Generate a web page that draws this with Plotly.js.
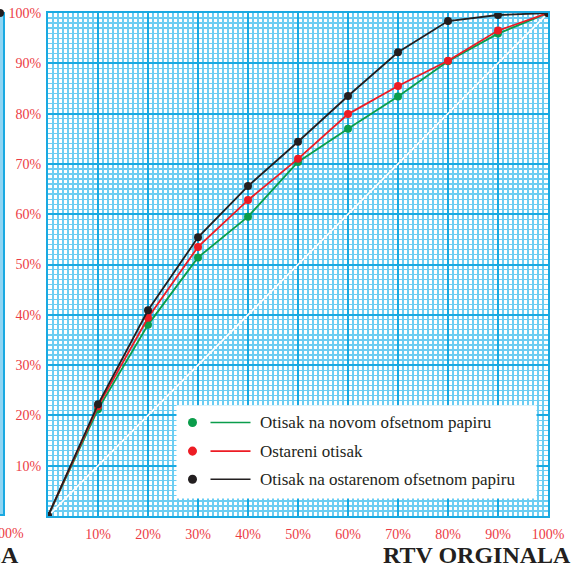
<!DOCTYPE html>
<html>
<head>
<meta charset="utf-8">
<script src="https://cdn.plot.ly/plotly-3.0.1.min.js"></script>
<style>html,body{margin:0;padding:0;background:#fff;}#chart{width:579px;height:573px;}</style>
</head>
<body>
<div id="chart"></div>
<script>
// Data
const xPct = [0, 10, 20, 30, 40, 50, 60, 70, 80, 90, 100];
const novomPapir = [0, 21.2, 38.0, 51.4, 59.5, 70.4, 77.0, 83.4, 90.4, 95.9, 100];
const ostareniOtisak = [0, 21.8, 39.4, 53.5, 62.8, 71.0, 79.9, 85.5, 90.5, 96.5, 100];
const ostarenomPapir = [0, 22.2, 40.9, 55.4, 65.6, 74.4, 83.5, 92.2, 98.4, 99.6, 100];
const diagX = [0, 100];
const diagY = [0, 100];
const seriesNames = ["Otisak na novom ofsetnom papiru", "Ostareni otisak", "Otisak na ostarenom ofsetnom papiru"];
const tickVals = [10, 20, 30, 40, 50, 60, 70, 80, 90, 100];
const tickText = ["10%", "20%", "30%", "40%", "50%", "60%", "70%", "80%", "90%", "100%"];
const xTitle = "RTV ORGINALA";

const SERIF = "Liberation Serif";
const cGreen = "#0b9d4b", cRed = "#ed1c24", cBlack = "#231f20";
const colors = [cGreen, cRed, cBlack];
const majorGrid = "#1aa9e1", minorGrid = "#6ccdf2";
const tickRed = "#ec3b45";

const traces = [
  {x: diagX, y: diagY, mode: "lines", line: {color: "#ffffff", width: 1.6}, hoverinfo: "skip", showlegend: false},
  {x: xPct, y: novomPapir, name: seriesNames[0], mode: "lines+markers", line: {color: cGreen, width: 1.8}, marker: {color: cGreen, size: 8}},
  {x: xPct, y: ostareniOtisak, name: seriesNames[1], mode: "lines+markers", line: {color: cRed, width: 1.8}, marker: {color: cRed, size: 8}},
  {x: xPct, y: ostarenomPapir, name: seriesNames[2], mode: "lines+markers", line: {color: cBlack, width: 1.8}, marker: {color: cBlack, size: 8}}
];

const axisCommon = {
  range: [0, 100], tickvals: tickVals, ticktext: tickText, ticks: "",
  showgrid: true, gridcolor: majorGrid, gridwidth: 2,
  minor: {dtick: 1, showgrid: true, gridcolor: minorGrid, gridwidth: 1.2, ticks: ""},
  zeroline: false, showline: true, linecolor: majorGrid, linewidth: 2, mirror: true,
  tickfont: {family: SERIF, size: 14, color: tickRed},
  fixedrange: true
};

// legend (manual) geometry in data units
const legX0 = 25.7, legX1 = 97.7, legY0 = 3.5, legY1 = 22.0;
const legDotX = 28.9, legLineX0 = 32.5, legLineX1 = 40.5, legTextX = 42.0;
const legRows = [18.6, 12.9, 7.3];

const shapes = [
  {type: "rect", xref: "x", yref: "y", x0: legX0, x1: legX1, y0: legY0, y1: legY1, fillcolor: "#ffffff", line: {width: 0}, layer: "above"},
  // partial neighbouring chart at the left edge
  {type: "rect", xref: "paper", yref: "paper", x0: -0.1, x1: -0.088, y0: 0.002, y1: 1.0, fillcolor: "#8fd5f3", line: {color: majorGrid, width: 2}, layer: "above"},
  {type: "circle", xref: "paper", yref: "paper", x0: -0.096 - 0.008, x1: -0.096 + 0.008, y0: 0.992, y1: 1.008, fillcolor: cBlack, line: {width: 0}, layer: "above"}
];
const annotations = [];
legRows.forEach((ry, i) => {
  shapes.push({type: "circle", xref: "x", yref: "y", x0: legDotX - 0.9, x1: legDotX + 0.9, y0: ry - 0.9, y1: ry + 0.9, fillcolor: colors[i], line: {width: 0}, layer: "above"});
  shapes.push({type: "line", xref: "x", yref: "y", x0: legLineX0, x1: legLineX1, y0: ry, y1: ry, line: {color: colors[i], width: 1.6}, layer: "above"});
  annotations.push({xref: "x", yref: "y", x: legTextX, y: ry, xanchor: "left", yanchor: "middle", showarrow: false,
    text: seriesNames[i], font: {family: SERIF, size: 17, color: cBlack}});
});
annotations.push({xref: "paper", yref: "paper", x: 1.05, y: -0.0785, xanchor: "right", yanchor: "middle", showarrow: false,
  text: "<b>" + xTitle + "</b>", font: {family: SERIF, size: 24, color: cBlack}});
annotations.push({xref: "paper", yref: "paper", x: -0.054, y: -0.0785, xanchor: "right", yanchor: "middle", showarrow: false,
  text: "<b>" + xTitle + "</b>", font: {family: SERIF, size: 24, color: cBlack}});
annotations.push({xref: "paper", yref: "paper", x: -0.044, y: -0.034, xanchor: "right", yanchor: "middle", showarrow: false,
  text: "100%", font: {family: SERIF, size: 14, color: tickRed}});

const layout = {
  width: 579, height: 573,
  margin: {l: 48, r: 31, t: 13, b: 57},
  paper_bgcolor: "#ffffff", plot_bgcolor: "#ffffff",
  font: {family: SERIF},
  showlegend: false,
  xaxis: Object.assign({}, axisCommon, {ticklabelstandoff: 4}),
  yaxis: Object.assign({}, axisCommon, {ticklabelstandoff: 2}),
  shapes: shapes,
  annotations: annotations
};

Plotly.newPlot("chart", traces, layout, {displayModeBar: false, staticPlot: true});
</script>
</body>
</html>
